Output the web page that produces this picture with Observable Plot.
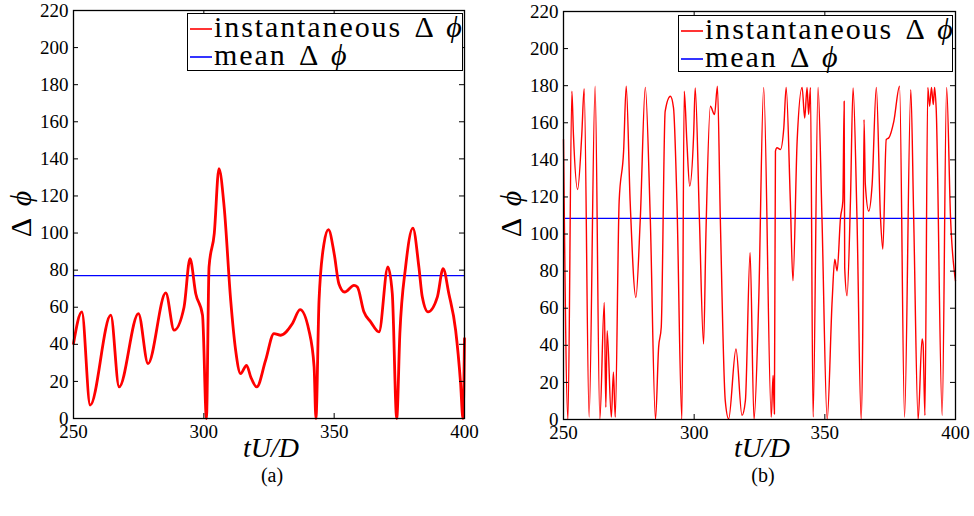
<!DOCTYPE html>
<html>
<head>
<meta charset="utf-8">
<script src="https://cdn.jsdelivr.net/npm/d3@7"></script>
<script src="https://cdn.jsdelivr.net/npm/@observablehq/plot@0.6"></script>
<style>
  html, body { margin: 0; padding: 0; background: #fff; }
  #root { position: relative; width: 974px; height: 516px; overflow: hidden; font-family: 'Liberation Serif', 'Times New Roman', serif; color: #000; }
  .panel { position: absolute; top: 0; }
  .lbl { position: absolute; white-space: nowrap; line-height: 1; }
  .legend { position: absolute; background: #fff; border: 1.3px solid #000; box-sizing: border-box; font-family: 'Liberation Serif', 'Times New Roman', serif; font-size: 30px; letter-spacing: 1.9px; }
  .legend svg.swatch { position: absolute; overflow: visible; }
  .legend .txt { position: absolute; white-space: nowrap; line-height: 24px; }
  i.m { font-style: italic; }
</style>
</head>
<body>
<div id="root"></div>
<script>
// ---- data ----
const timeA = [250,253.2,256.4,264.3,267.5,274.9,278.6,285.4,288.6,292.4,
  294.7,296.9,299.5,301,302,304,305.8,307.8,310.3,312.2,
  314.1,316.4,318,320.3,323.7,326.9,329.5,334,336.9,340.3,
  342.3,343,344.2,346.1,347.8,350,351.8,354,357.6,358.9,
  361.4,364,367.2,370.6,372.3,374,375.2,377.4,380.2,382.5,
  383.8,386,389.6,391.8,394,396.6,398.5,399.4,400];
const phaseA = [40.4,57.5,7.2,55.7,17,56.6,29.6,67.7,47.6,60,
  86.2,67.3,55.7,0,81.7,99.7,134.7,114,63.8,36.8,
  24.2,28.7,22.4,17,31.4,45.8,44.9,51.2,58.7,47.6,
  27.8,0,63.8,94.3,101.8,88.9,72.7,68.2,71.8,70.9,
  57.5,52.1,46.7,81.7,67.3,0,45.8,81.7,102.7,81.7,
  65.6,57.5,65.6,80.8,67.3,47.6,18.9,0,43.1];
const meanA = 77;

const timeB = [250,251.7,253.2,253.8,255.4,257,257.9,259.8,262.1,263.9,
  265.6,266.2,266.7,268.3,269.1,269.8,271.3,273,274,275.5,
  277.7,279.4,281.3,283.2,285.2,286.4,287.4,288.9,290.9,292.1,
  293.4,295.3,296.2,297.2,298.3,299.8,300.4,302,303.6,304.5,
  306.2,307.8,308.9,310,311.9,313.2,316,318.3,319.6,321.4,
  322.9,324.7,326.6,329.5,330.2,330.7,331.1,331.7,333,334.3,
  335.2,336.8,337.8,339.4,341.3,342.3,343.2,343.8,344.5,345.5,
  347.4,348.9,350.9,352.8,353.8,354.7,356,356.9,357.4,357.6,
  358.5,359.8,360.8,362.3,363.9,364.5,365,365.5,366.8,368.1,
  369.7,371.3,372.2,373.5,374.5,376.4,378.6,380.5,382.9,384,
  385.7,387.2,387.6,388.3,389.4,390.1,390.8,391.5,392,392.6,
  394.9,396.6,398.1,400];
const phaseB = [151,0,177,153.7,124,153.7,178.4,1.3,179.7,0,
  63.1,6.6,47.9,1.3,25.5,1.3,117.8,144.7,179.7,117.8,
  65.8,108.8,179.1,108.8,0,38.9,49.7,166.2,174.3,168,
  117.8,0,177,150,125.9,153.7,178.8,108.5,40.7,99.9,
  168.9,164.4,179.7,108.8,10.2,0.4,38,2.2,10.2,90,
  0,64,179.1,1.3,23.7,3,144.7,146.5,145.6,157.3,
  179.1,117.8,74.8,150,179.1,162.6,179.1,164.4,179.1,1.3,
  179.1,108.8,0,64,86.4,80.1,108.8,117.8,171.6,82,
  66.7,117.8,178.8,108.8,0,46,161.7,126.8,112.4,126.8,
  179.1,108.8,91.8,151,151.9,160.8,179.7,1.3,177.9,108.8,
  0,43.4,40.7,2.2,179.1,168.9,179.1,169.8,179.1,168,
  2.2,179.1,108.8,74.8];
const meanB = 108.5;

const xTicks = [250, 300, 350, 400];
const yTicks = [0, 20, 40, 60, 80, 100, 120, 140, 160, 180, 200, 220];
const panelCaptions = ["(a)", "(b)"];
const seriesNames = ["instantaneous", "mean"];
const seriesColors = ["#ff0000", "#0000ff"];

// ---- drawing ----
const root = document.getElementById("root");
const W = 487, H = 516;
const SERIF = "'Liberation Serif', 'Times New Roman', serif";

function panel(times, phases, mean, opts) {
  const data = times.map((t, i) => ({t, p: phases[i]}));
  const innerW = W - opts.ml - opts.mr;
  const innerH = H - opts.mt - opts.mb;
  const tk = 5;
  const svg = Plot.plot({
    width: W, height: H,
    marginLeft: opts.ml, marginRight: opts.mr, marginTop: opts.mt, marginBottom: opts.mb,
    style: {fontFamily: SERIF, fontSize: "19px", color: "#000", background: "transparent", overflow: "visible"},
    x: {domain: [250, 400]},
    y: {domain: [0, 220]},
    marks: [
      Plot.ruleY([mean], {stroke: seriesColors[1], strokeWidth: 1.3}),
      Plot.line(data, {x: "t", y: "p", stroke: seriesColors[0], strokeWidth: opts.sw, curve: "monotone-x", strokeLinejoin: "round"}),
      Plot.frame({stroke: "#000", strokeWidth: 1.3}),
      Plot.tickX(xTicks, {x: d => d, insetTop: innerH - tk, stroke: "#000"}),
      Plot.tickX(xTicks, {x: d => d, insetBottom: innerH - tk, stroke: "#000"}),
      Plot.tickY(yTicks, {y: d => d, insetRight: innerW - tk, stroke: "#000"}),
      Plot.tickY(yTicks, {y: d => d, insetLeft: innerW - tk, stroke: "#000"}),
      Plot.axisX(xTicks, {anchor: "bottom", tickSize: 0, tickPadding: 6, label: null, fill: "#000"}),
      Plot.axisY(yTicks, {anchor: "left", tickSize: 0, tickPadding: 5, label: null, fill: "#000"})
    ]
  });
  const wrap = document.createElement("div");
  wrap.className = "panel";
  wrap.style.left = opts.left + "px";
  wrap.appendChild(svg);
  root.appendChild(wrap);
}

panel(timeA, phaseA, meanA, {left: 0, ml: 73, mr: 23, mt: 10, mb: 98, sw: 2.8});
panel(timeB, phaseB, meanB, {left: 487, ml: 76, mr: 19, mt: 11, mb: 97, sw: 1.4});

function addLabel(html, left, top, fs, extra) {
  const d = document.createElement("div");
  d.className = "lbl";
  d.innerHTML = html;
  d.style.left = left + "px";
  d.style.top = top + "px";
  d.style.fontSize = fs + "px";
  d.style.transform = extra || "translate(-50%, 0)";
  root.appendChild(d);
  return d;
}

const dphi = "Δ <i class='m'>ϕ</i>";
[[268, 21, 214], [759, 511, 214]].forEach(([cx, yx, yy], k) => {
  addLabel("<i>tU/D</i>", cx + 3, 434, 28);
  addLabel(panelCaptions[k], cx + 4, 465, 20);
  const yl = addLabel(dphi, yx, yy, 30, "translate(-50%, -50%) rotate(-90deg)");
  yl.style.wordSpacing = "6px";
});

const NS = "http://www.w3.org/2000/svg";
function legend(left, top, w, h) {
  const box = document.createElement("div");
  box.className = "legend";
  Object.assign(box.style, {left: left + "px", top: top + "px", width: w + "px", height: h + "px"});
  seriesNames.forEach((name, i) => {
    const cy = 15 + i * 27.5;
    const s = document.createElementNS(NS, "svg");
    s.setAttribute("class", "swatch");
    s.setAttribute("width", 22);
    s.setAttribute("height", 4);
    s.style.left = "2px";
    s.style.top = (cy - 2) + "px";
    const ln = document.createElementNS(NS, "line");
    ln.setAttribute("x1", 0); ln.setAttribute("x2", 22);
    ln.setAttribute("y1", 2); ln.setAttribute("y2", 2);
    ln.setAttribute("stroke", seriesColors[i]);
    ln.setAttribute("stroke-width", 1.6);
    s.appendChild(ln);
    box.appendChild(s);
    const tx = document.createElement("div");
    tx.className = "txt";
    tx.innerHTML = name + " Δ <i class='m'>ϕ</i>";
    tx.style.wordSpacing = "3px";
    Object.assign(tx.style, {left: "26px", top: (cy - 14) + "px"});
    box.appendChild(tx);
  });
  root.appendChild(box);
}
legend(187, 13, 276, 58);
legend(678, 15, 275, 57);
</script>
</body>
</html>
